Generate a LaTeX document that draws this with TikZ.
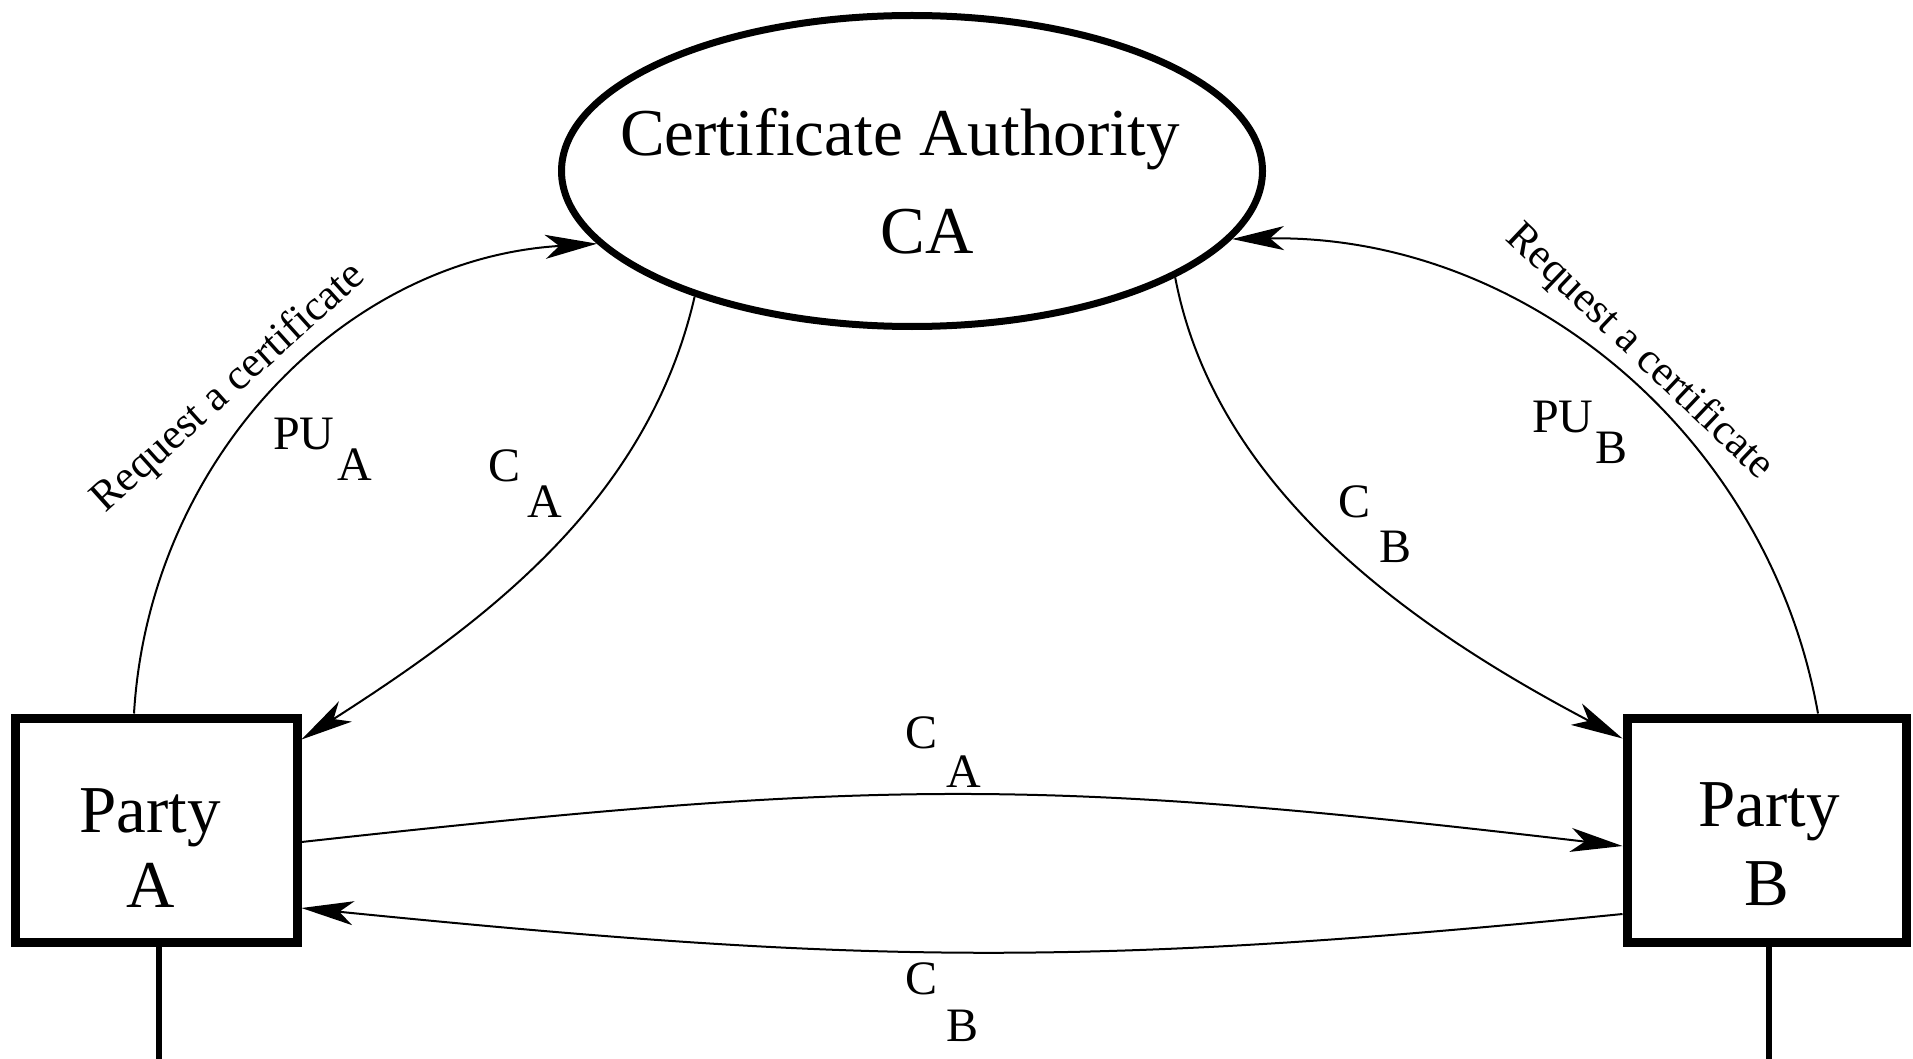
\documentclass[tikz,border=0pt]{standalone}
\usepackage{fontspec}
\setmainfont{Liberation Serif}
\usetikzlibrary{arrows.meta,shapes.geometric}
\begin{document}
\begin{tikzpicture}[x=1pt,y=-1pt,
  link/.style={line width=2pt,-{Stealth[length=52pt,width=24pt,inset=14pt]}},
  bigtext/.style={font=\fontsize{67}{80}\selectfont,inner sep=0pt,anchor=base},
  keylabel/.style={font=\fontsize{48}{56}\selectfont,inner sep=0pt,anchor=base west},
  reqtext/.style={font=\fontsize{43}{50}\selectfont,inner sep=0pt,anchor=base},
  partybox/.style={draw,rectangle,line width=9pt,inner sep=0pt,minimum height=224pt},
  authority/.style={draw,ellipse,line width=7pt,inner sep=0pt,minimum width=701pt,minimum height=311pt},
  stem/.style={line width=5.5pt}
]
\fill[white] (0,0) rectangle (1913,1059);
\useasboundingbox (0,0) rectangle (1913,1059);

% certificate authority
\node[authority] (ca) at (912,171) {};
\node[bigtext] (caname) at (900,156) {Certificate Authority};
\node[bigtext] (caabbr) at (927,254) {CA};

% the two parties
\node[partybox,minimum width=282pt] (pa) at (156,830) {};
\node[bigtext] (paname) at (150,832) {Party};
\node[bigtext] (paletter) at (151,907) {A};
\node[partybox,minimum width=279pt] (pb) at (1766.5,830) {};
\node[bigtext] (pbname) at (1769,826) {Party};
\node[bigtext] (pbletter) at (1767,905) {B};

% stems below the parties
\coordinate (afoot) at (159,1062);
\coordinate (bfoot) at (1769,1062);
\draw[stem] (pa.south -| afoot) -- (afoot);
\draw[stem] (pb.south -| bfoot) -- (bfoot);

% certificate requests
\draw[link] ([xshift=-22pt]pa.north) .. controls (149,462) and (342,259) .. (ca.193.6);
\draw[link] ([xshift=51.5pt]pb.north) .. controls (1769,437) and (1526,234) .. (ca.348.6);

% certificates issued by the authority
\draw[link] (ca.210.3) .. controls (648,499) and (490,619) .. ([yshift=-26pt]pa.north east);
\draw[link] (ca.338) .. controls (1217,498) and (1428,636) .. ([yshift=-25pt]pb.north west);

% certificates exchanged between the parties
\draw[link] ([yshift=-12pt]pa.east) .. controls (882,778) and (1042,778) .. ([yshift=-16pt]pb.west);
\draw[link] ([yshift=-84pt]pb.west) .. controls (1072,969) and (852,963) .. ([yshift=-78pt]pa.east);

% labels
\node[reqtext,rotate=42] (reqa) at (236,396) {Request a certificate};
\node[reqtext,rotate=-43.5] (reqb) at (1632,360) {Request a certificate};
\node[keylabel] (pua) at (273,449) {PU\hspace{3pt}\raisebox{-31pt}{A}};
\node[keylabel] (pub) at (1532,432) {PU\hspace{2pt}\raisebox{-31pt}{B}};
\node[keylabel] (caa) at (488,481) {C\hspace{7pt}\raisebox{-36pt}{A}};
\node[keylabel] (cab) at (1338,517) {C\hspace{9pt}\raisebox{-45pt}{B}};
\node[keylabel] (xa) at (905,748) {C\hspace{9pt}\raisebox{-39pt}{A}};
\node[keylabel] (xb) at (905,994) {C\hspace{9pt}\raisebox{-47pt}{B}};
\end{tikzpicture}
\end{document}
